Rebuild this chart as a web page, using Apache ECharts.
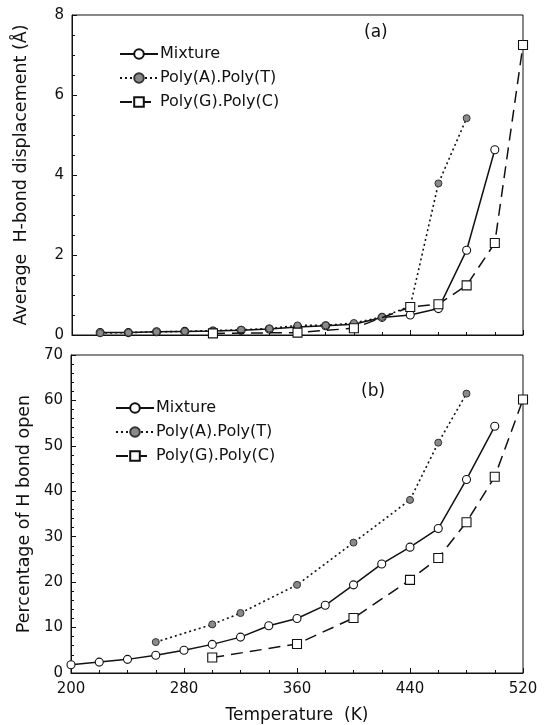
<!DOCTYPE html>
<html>
<head>
<meta charset="utf-8">
<script src="https://cdn.jsdelivr.net/npm/echarts@6/dist/echarts.min.js"></script>
<style>
  html, body { margin: 0; padding: 0; background: #fff; }
  #chart { width: 548px; height: 725px; }
</style>
</head>
<body>
<div id="chart"></div>
<script>
// Panel (a): average H-bond displacement (Å)
const tempMixA = [220, 240, 260, 280, 300, 320, 340, 360, 380, 400, 420, 440, 460, 480, 500];
const dispMix = [0.06, 0.06, 0.08, 0.09, 0.10, 0.12, 0.15, 0.20, 0.23, 0.27, 0.44, 0.50, 0.66, 2.12, 4.63];
const tempAT_A = [220, 240, 260, 280, 300, 320, 340, 360, 380, 400, 420, 440, 460, 480];
const dispAT = [0.05, 0.06, 0.08, 0.09, 0.11, 0.13, 0.16, 0.24, 0.24, 0.30, 0.45, 0.72, 3.79, 5.42];
const tempGC_A = [300, 360, 400, 440, 460, 480, 500, 520];
const dispGC = [0.04, 0.06, 0.17, 0.70, 0.77, 1.24, 2.30, 7.25];

// Panel (b): percentage of H bond open
const tempMixB = [200, 220, 240, 260, 280, 300, 320, 340, 360, 380, 400, 420, 440, 460, 480, 500];
const openMix = [1.8, 2.4, 3.0, 3.9, 5.0, 6.3, 7.9, 10.4, 12.0, 14.9, 19.4, 24.0, 27.7, 31.8, 42.6, 54.3];
const tempAT_B = [260, 300, 320, 360, 400, 440, 460, 480];
const openAT = [6.8, 10.7, 13.2, 19.4, 28.7, 38.1, 50.7, 61.5];
const tempGC_B = [300, 360, 400, 440, 460, 480, 500, 520];
const openGC = [3.4, 6.4, 12.1, 20.5, 25.3, 33.2, 43.2, 60.2];

const seriesNames = ['Mixture', 'Poly(A).Poly(T)', 'Poly(G).Poly(C)'];

const FONT = 'DejaVu Sans';
const INK = '#111';

function pairs(xs, ys) { return xs.map((x, i) => [x, ys[i]]); }

// open circle / grey dot / open square, as in the printed figure
const styles = [
  { symbol: 'circle', symbolSize: 8, lineStyle: { color: INK, width: 1.5, type: 'solid' },
    itemStyle: { color: '#fff', borderColor: INK, borderWidth: 1.1 } },
  { symbol: 'circle', symbolSize: 7, lineStyle: { color: INK, width: 1.6, type: [2, 3] },
    itemStyle: { color: '#8a8a8a', borderColor: '#333', borderWidth: 1 } },
  { symbol: 'rect', symbolSize: 9, lineStyle: { color: INK, width: 1.5, type: [12, 7] },
    itemStyle: { color: '#fff', borderColor: INK, borderWidth: 1.1 } }
];

function makeSeries(name, idx, data, gridIdx) {
  const s = styles[idx];
  return {
    name: name, type: 'line', data: data,
    xAxisIndex: gridIdx, yAxisIndex: gridIdx,
    symbol: s.symbol, symbolSize: s.symbolSize, showAllSymbol: true,
    lineStyle: Object.assign({}, s.lineStyle), itemStyle: Object.assign({}, s.itemStyle),
    clip: false, animation: false, z: 3 + idx
  };
}

function xAxis(gridIdx, withLabels) {
  return {
    type: 'value', gridIndex: gridIdx, min: 200, max: 520, interval: 80,
    axisLine: { show: true, lineStyle: { color: INK, width: 1 } },
    axisTick: { show: true, inside: true, length: 5, lineStyle: { color: INK } },
    minorTick: { show: true, splitNumber: 4, length: 3, lineStyle: { color: INK } },
    splitLine: { show: false },
    axisLabel: { show: withLabels, color: INK, fontFamily: FONT, fontSize: 15, margin: 9 },
    name: withLabels ? 'Temperature  (K)' : '',
    nameLocation: 'middle', nameGap: 34,
    nameTextStyle: { color: INK, fontFamily: FONT, fontSize: 17 }
  };
}

function yAxis(gridIdx, max, interval, minorSplit, name, gap) {
  return {
    type: 'value', gridIndex: gridIdx, min: 0, max: max, interval: interval,
    axisLine: { show: true, lineStyle: { color: INK, width: 1 } },
    axisTick: { show: true, inside: true, length: 5, lineStyle: { color: INK } },
    minorTick: { show: true, splitNumber: minorSplit, length: 3, lineStyle: { color: INK } },
    splitLine: { show: false },
    axisLabel: { color: INK, fontFamily: FONT, fontSize: 15, margin: 8 },
    name: name, nameLocation: 'middle', nameGap: gap,
    nameTextStyle: { color: INK, fontFamily: FONT, fontSize: 17.5 }
  };
}

function legend(left, top) {
  return {
    data: seriesNames, orient: 'vertical', left: left, top: top,
    itemWidth: 38, itemHeight: 12, itemGap: 8,
    textStyle: { color: INK, fontFamily: FONT, fontSize: 16, padding: [0, 0, 0, -3] },
    selectedMode: false
  };
}

const chart = echarts.init(document.getElementById('chart'), null, { renderer: 'canvas' });

chart.setOption({
  backgroundColor: '#fff',
  animation: false,
  grid: [
    { left: 72, top: 15, width: 451, height: 320, show: true, borderColor: INK, borderWidth: 1 },
    { left: 71, top: 355, width: 452, height: 319, show: true, borderColor: INK, borderWidth: 1 }
  ],
  xAxis: [xAxis(0, false), xAxis(1, true)],
  yAxis: [
    yAxis(0, 8, 2, 4, 'Average  H-bond displacement (Å)', 42),
    yAxis(1, 70, 10, 5, 'Percentage of H bond open', 38)
  ],
  legend: [legend(114, 41), legend(110, 395)],
  graphic: [
    { type: 'text', left: 364, top: 24, style: { text: '(a)', fill: INK, font: '17px "DejaVu Sans"' } },
    { type: 'text', left: 361, top: 383, style: { text: '(b)', fill: INK, font: '17px "DejaVu Sans"' } }
  ],
  series: [
    makeSeries(seriesNames[0], 0, pairs(tempMixA, dispMix), 0),
    makeSeries(seriesNames[1], 1, pairs(tempAT_A, dispAT), 0),
    makeSeries(seriesNames[2], 2, pairs(tempGC_A, dispGC), 0),
    makeSeries(seriesNames[0], 0, pairs(tempMixB, openMix), 1),
    makeSeries(seriesNames[1], 1, pairs(tempAT_B, openAT), 1),
    makeSeries(seriesNames[2], 2, pairs(tempGC_B, openGC), 1)
  ]
});
</script>
</body>
</html>
